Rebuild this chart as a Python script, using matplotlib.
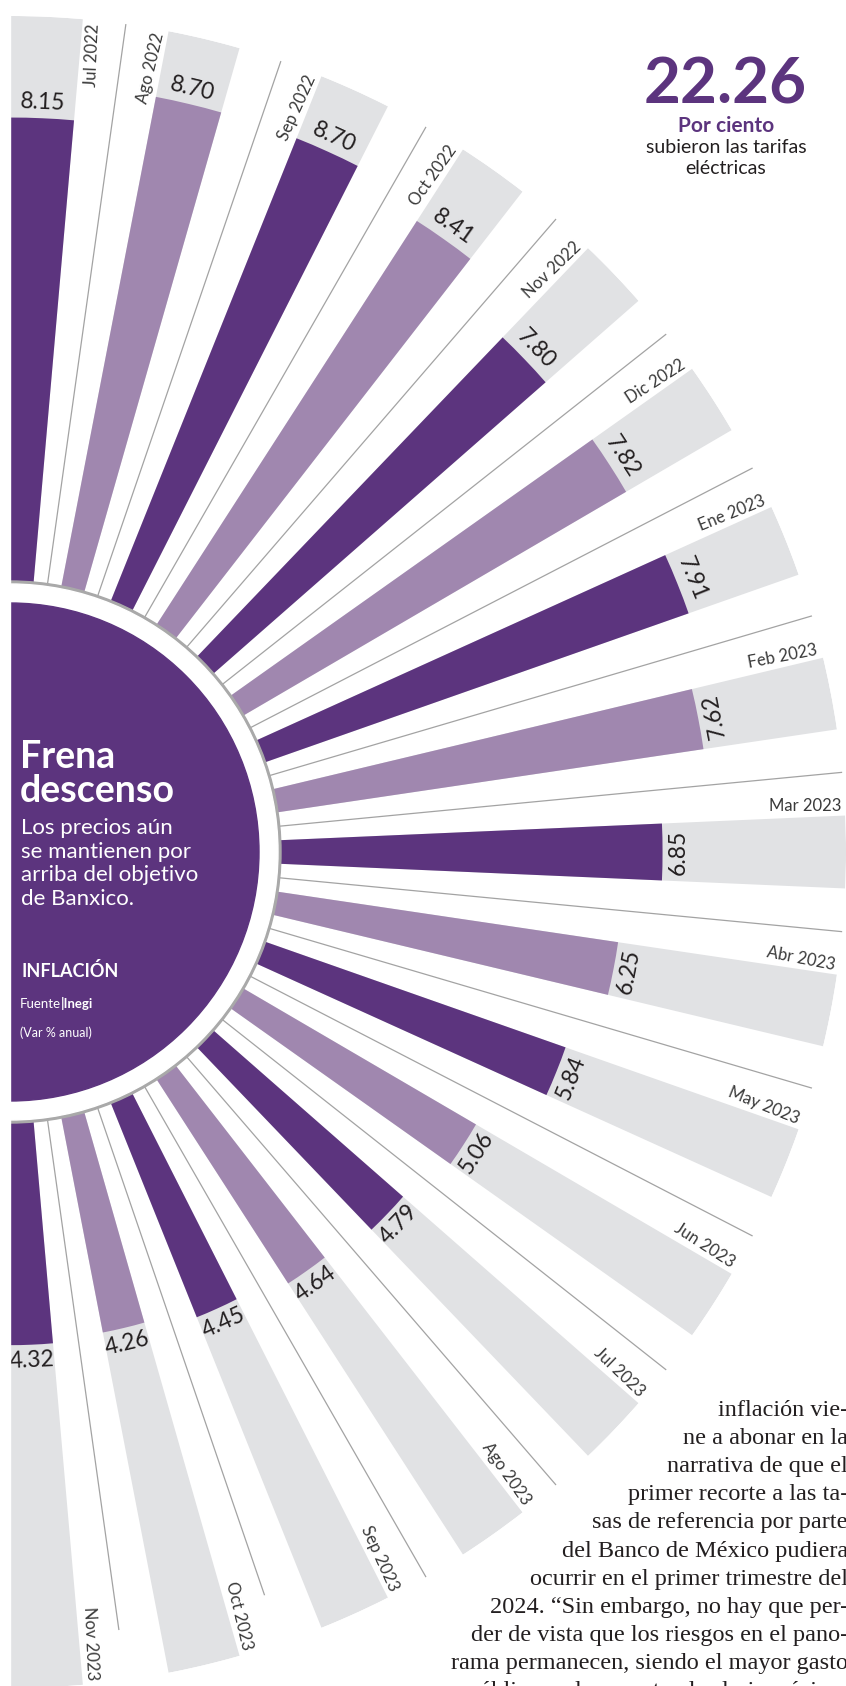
import numpy as np
import matplotlib.pyplot as plt
from matplotlib.patches import Circle, Rectangle

# inflacion anual (Var % anual) - fuente Inegi
meses = ["Jul 2022", "Ago 2022", "Sep 2022", "Oct 2022", "Nov 2022", "Dic 2022",
         "Ene 2023", "Feb 2023", "Mar 2023", "Abr 2023", "May 2023", "Jun 2023",
         "Jul 2023", "Ago 2023", "Sep 2023", "Oct 2023", "Nov 2023"]
inflacion = [8.15, 8.70, 8.70, 8.41, 7.80, 7.82, 7.91, 7.62, 6.85, 6.25,
             5.84, 5.06, 4.79, 4.64, 4.45, 4.26, 4.32]

subtitulo = ["Los precios aún", "se mantienen por", "arriba del objetivo", "de Banxico."]

parrafo = ["inflación vie-",
           "ne a abonar en la",
           "narrativa de que el",
           "primer recorte a las ta-",
           "sas de referencia por parte",
           "del Banco de México pudiera",
           "ocurrir en el primer trimestre del",
           "2024. “Sin embargo, no hay que per-",
           "der de vista que los riesgos en el pano-",
           "rama permanecen, siendo el mayor gasto",
           "público y el aumento al salario mínimo"]

morado = "#5c347e"
lila = "#a087af"
gris = "#e1e2e4"
linea = "#a3a3a3"
tinta = "#231f20"

plt.rcParams['font.family'] = ['Lato', 'DejaVu Sans']

W, H = 846, 1686
fig = plt.figure(figsize=(W / 100, H / 100), dpi=100)

# abanico: centro pegado al borde izquierdo, solo se ve la mitad
cx, cy, R = 10, 852, 836
ax = fig.add_axes([(cx - R) / W, (H - cy - R) / H, 2 * R / W, 2 * R / H],
                  projection="polar")
ax.set_axis_off()

px_unidad, r0 = 63, 221   # escala radial (px por punto, px del cero)


def rad(p):
    # px desde el centro -> unidades de la escala
    return (p - r0) / px_unidad


ax.set_ylim(rad(0), rad(R))

n = len(meses)
paso = 175 / (n - 1)
ang = 87.5 - paso * np.arange(n)
theta = np.deg2rad(ang)
ancho = np.deg2rad(5.0)
colores = [morado if i % 2 == 0 else lila for i in range(n)]

# fondo gris y barras
ax.bar(theta, rad(836), width=ancho, bottom=0, color=gris, linewidth=0, zorder=1)
ax.bar(theta, inflacion, width=ancho, bottom=0, color=colores, linewidth=0, zorder=2)

# lineas finas entre barras
medio = np.deg2rad(ang[:-1] - paso / 2)
for k, t in enumerate(medio):
    fin = 842 if k < len(medio) - 2 else 785
    ax.plot([t, t], [rad(270), rad(fin)], color=linea, lw=0.9, zorder=1.5)

# circulo central con aro blanco
for rr, c in [(271, "#a9a9a9"), (268, "white"), (249, morado)]:
    ax.add_patch(Circle((0.5, 0.5), rr / (2 * R), transform=ax.transAxes,
                        color=c, zorder=3, clip_on=False))

# valores
for t, a, v in zip(theta, ang, inflacion):
    if a > 15:
        rot, va = a - 90, "bottom"
    else:
        rot, va = a + 90, "top"
    ax.text(t, v + 0.08, f"{v:.2f}", rotation=rot, rotation_mode="anchor",
            ha="center", va=va, fontsize=16.5, color=tinta, zorder=4)

# meses
for i, (a, m) in enumerate(zip(ang, meses)):
    if i == 0:
        pos, va = a - 2.7, "top"
    else:
        pos, va = a + 2.8, "baseline"
    ax.text(np.deg2rad(pos), rad(832), m, rotation=a, rotation_mode="anchor",
            ha="right", va=va, fontsize=12, color="#3a3a3a", zorder=4)


def ft(x, y, s, **kw):
    fig.text(x / W, 1 - y / H, s, **kw)


# textos dentro del circulo
ft(20, 768, "Frena", fontsize=27, weight="bold", color="white")
ft(20, 802, "descenso", fontsize=27, weight="bold", color="white")
for k, s in enumerate(subtitulo):
    ft(21, 834 + 23.7 * k, s, fontsize=16, color="white")
ft(21, 977, "INFLACIÓN", fontsize=13, weight="bold", color="white")
ft(20, 1008, "Fuente", fontsize=9.5, color="white")
ft(61, 1008, "|Inegi", fontsize=9.5, weight="bold", color="white")
ft(20, 1037, "(Var % anual)", fontsize=9, color="white")

# dato destacado
ft(725, 103, "22.26", ha="center", fontsize=46, weight="bold", color=morado)
ft(726, 132, "Por ciento", ha="center", fontsize=15, weight="bold", color=morado)
ft(726, 153, "subieron las tarifas", ha="center", fontsize=14, color=tinta)
ft(726, 174, "eléctricas", ha="center", fontsize=14, color=tinta)

# texto de la nota
for k, s in enumerate(parrafo):
    ft(848, 1416 + 28.1 * k, s, ha="right", family="Liberation Serif",
       fontsize=17.5, color=tinta)

# margen blanco a la izquierda
fig.add_artist(Rectangle((0, 0), 10 / W, 1, transform=fig.transFigure,
                         color="white", zorder=5))

fig.savefig("out.png", dpi=100)
